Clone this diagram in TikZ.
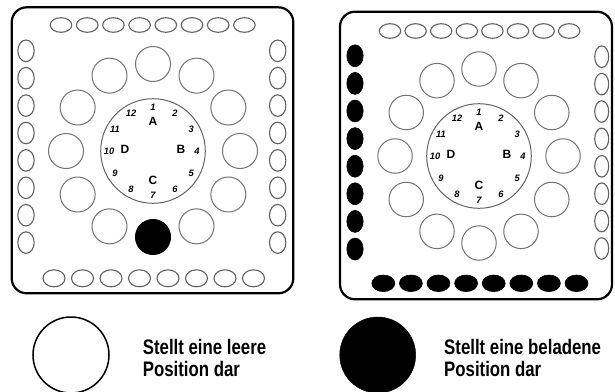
\documentclass[tikz,border=0pt]{standalone}
\usepackage{fontspec}
\setmainfont{Liberation Sans}
\newfontfamily\legfont[FakeStretch=0.8]{Liberation Sans}
\begin{document}
\begin{tikzpicture}[x=1pt,y=-1pt,
  frame/.style={draw=black, line width=2.2pt, rounded corners=15pt},
  slot/.style={draw=black!62, line width=1.1pt},
  fullslot/.style={fill=black, draw=black, line width=0.6pt},
  posn/.style={circle, draw=black!55, line width=1pt, inner sep=0pt},
  clockring/.style={circle, draw=black!60, line width=1pt, inner sep=0pt, minimum size=104.6pt},
  num/.style={font=\fontsize{9.3}{9}\selectfont\bfseries\itshape, inner sep=0pt},
  letr/.style={font=\fontsize{12}{12}\selectfont\bfseries, inner sep=0pt},
  legtext/.style={font=\legfont\bfseries\fontsize{21}{23}\selectfont, inner sep=0pt, anchor=base west}]
\useasboundingbox (0,0) rectangle (615,391);
\fill[white] (0,0) rectangle (615,391);

% ---------- left panel ----------
\draw[frame] (11.7,7.3) rectangle (293.3,293.3);
\foreach \i in {0,...,7} {
  \draw[slot] (61+26.2*\i,25) ellipse[x radius=10.8pt, y radius=7.3pt];
  \draw[slot] (54+28.5*\i,278.3) ellipse[x radius=11pt, y radius=8.5pt];
  \draw[slot] (26,50.8+27.4*\i) ellipse[x radius=8.2pt, y radius=10.8pt];
  \draw[slot] (277.7,50.8+27.4*\i) ellipse[x radius=8.2pt, y radius=10.8pt];
}
\node[clockring] (clockL) at (153,151) {};
\foreach \k in {1,...,12}
  \node[num] (nL\k) at ([shift={({90-(\k-1)*30}:44pt)}]clockL.center) {\k};
\node[letr] (aL) at ([shift={(0pt,30pt)}]clockL.center) {A};
\node[letr] (bL) at ([shift={(28pt,1.5pt)}]clockL.center) {B};
\node[letr] (cL) at ([shift={(0pt,-29pt)}]clockL.center) {C};
\node[letr] (dL) at ([shift={(-28pt,1.5pt)}]clockL.center) {D};
\foreach \j in {0,1,2,3,4,5,7,8,9,10,11}
  \node[posn, minimum size=35pt] (pL\j) at ([shift={({90-\j*30}:87pt)}]clockL.center) {};
\node[posn, minimum size=35pt, fill=black, draw=black] (pL6) at ([shift={(-90:86pt)}]clockL.center) {};

% ---------- right panel ----------
\draw[frame] (340,11.7) rectangle (612,299.3);
\foreach \i in {0,...,7} {
  \draw[slot] (390+25.6*\i,31) ellipse[x radius=10.7pt, y radius=7.3pt];
  \draw[fullslot] (355,55.8+27.6*\i) ellipse[x radius=8.2pt, y radius=11pt];
  \draw[slot] (601.7,56.7+27.4*\i) ellipse[x radius=7pt, y radius=10.8pt];
  \draw[fullslot] (383.3+27.6*\i,283.3) ellipse[x radius=11.5pt, y radius=8.3pt];
}
\node[clockring] (clockR) at (479,156) {};
\foreach \k in {1,...,12}
  \node[num] (nR\k) at ([shift={({90-(\k-1)*30}:44pt)}]clockR.center) {\k};
\node[letr] (aR) at ([shift={(0pt,30pt)}]clockR.center) {A};
\node[letr] (bR) at ([shift={(28pt,1.5pt)}]clockR.center) {B};
\node[letr] (cR) at ([shift={(0pt,-29pt)}]clockR.center) {C};
\node[letr] (dR) at ([shift={(-28pt,1.5pt)}]clockR.center) {D};
\foreach \j in {0,...,11}
  \node[posn, minimum size=34.5pt] (pR\j) at ([shift={({90-\j*30}:84pt and 87pt)}]clockR.center) {};

% ---------- legend ----------
\node[circle, draw=black, line width=1.5pt, minimum size=76pt, inner sep=0pt] (legE) at (71,355) {};
\node[legtext] (legE1) at (142.7,354.3) {Stellt eine leere};
\node[legtext] (legE2) at (142.7,376) {Position dar};
\node[circle, fill=black, draw=black, minimum size=76pt, inner sep=0pt] (legF) at (377.7,355) {};
\node[legtext] (legF1) at (444,354.3) {Stellt eine beladene};
\node[legtext] (legF2) at (444,376) {Position dar};
\end{tikzpicture}
\end{document}
